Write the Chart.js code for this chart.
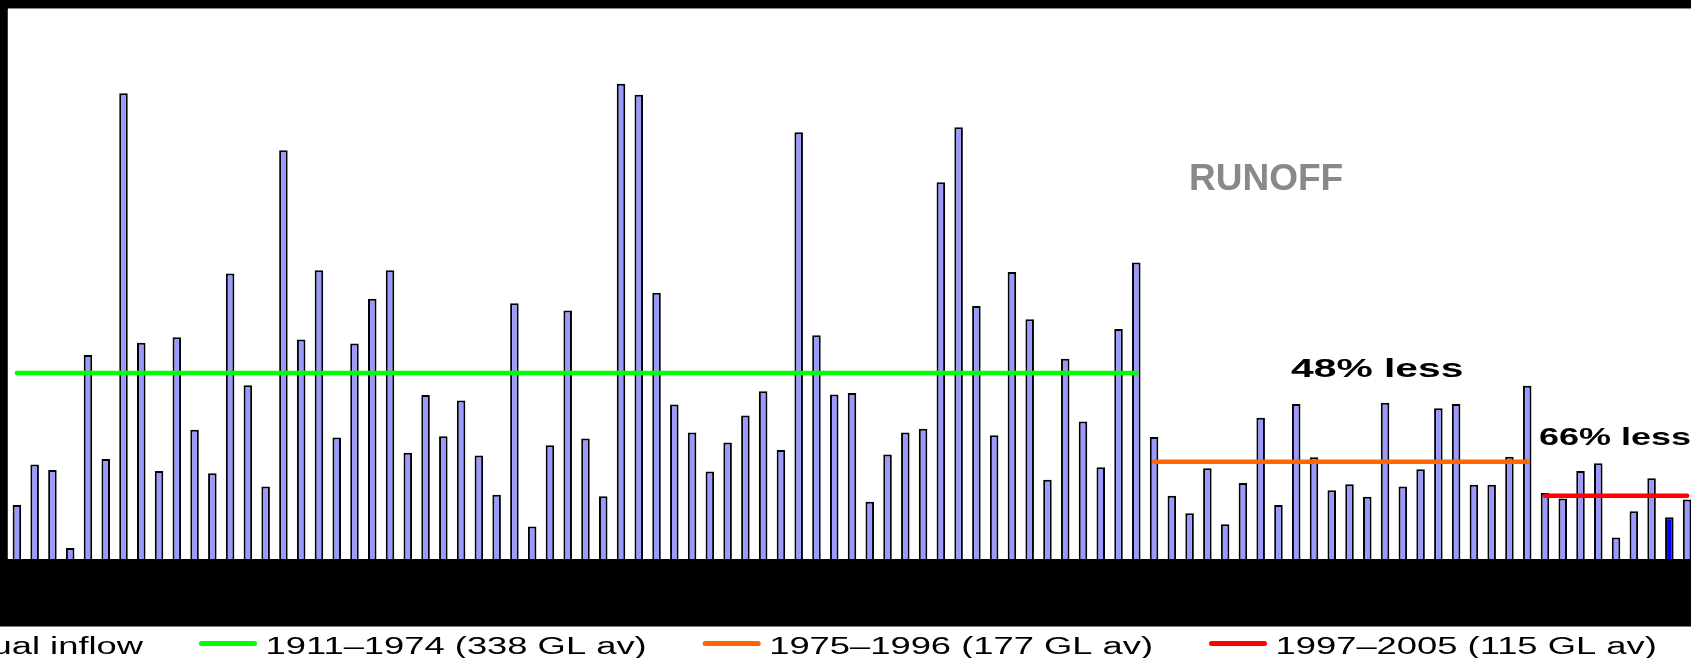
<!DOCTYPE html>
<html>
<head>
<meta charset="utf-8">
<title>Runoff</title>
<script src="https://cdn.jsdelivr.net/npm/chart.js@4.4.1/dist/chart.umd.min.js"></script>
<style>
    html, body { margin: 0; padding: 0; background: #000; overflow: hidden; }
    #wrap { position: absolute; left: 0; top: 0; width: 1696px; height: 658px; }
</style>
</head>
<body>
<div id="wrap"><canvas id="chart" width="1696" height="658"></canvas></div>
<script>
// --------------------------- Data (GL per year)

const years = [
    '1911', '1912', '1913', '1914', '1915', '1916', '1917', '1918', '1919', '1920',
    '1921', '1922', '1923', '1924', '1925', '1926', '1927', '1928', '1929', '1930',
    '1931', '1932', '1933', '1934', '1935', '1936', '1937', '1938', '1939', '1940',
    '1941', '1942', '1943', '1944', '1945', '1946', '1947', '1948', '1949', '1950',
    '1951', '1952', '1953', '1954', '1955', '1956', '1957', '1958', '1959', '1960',
    '1961', '1962', '1963', '1964', '1965', '1966', '1967', '1968', '1969', '1970',
    '1971', '1972', '1973', '1974', '1975', '1976', '1977', '1978', '1979', '1980',
    '1981', '1982', '1983', '1984', '1985', '1986', '1987', '1988', '1989', '1990',
    '1991', '1992', '1993', '1994', '1995', '1996', '1997', '1998', '1999', '2000',
    '2001', '2002', '2003', '2004', '2005'
];

const inflow = [
    98, 172, 162, 20, 371, 182, 847, 393, 160, 403,
    235, 156, 519, 316, 132, 743, 399, 525, 221, 392,
    473, 525, 193, 298, 223, 288, 188, 117, 465, 59,
    207, 452, 219, 114, 864, 844, 484, 281, 230, 159,
    212, 261, 305, 198, 776, 407, 299, 302, 104, 190,
    230, 237, 685, 785, 460, 225, 522, 436, 144, 364,
    250, 167, 418, 539, 222, 115, 83, 165, 63, 138,
    257, 98, 282, 185, 125, 136, 113, 284, 132, 163,
    274, 282, 135, 135, 186, 315, 120, 110, 160, 174,
    39, 87, 147, 76, 108
];

const highlightYear = '2004';

const periodLabels = ['1911\u20131974 (338 GL av)', '1975\u20131996 (177 GL av)', '1997\u20132005 (115 GL av)'];
const periodStart = ['1911', '1975', '1997'];
const periodEnd = ['1974', '1996', '2005'];
const periodMean = [338, 177, 115];
const periodColors = ['#00ff00', '#ff6600', '#ff0000'];

const yMax = 1000;

// --------------------------- Helpers

const FONT = '"Liberation Sans", Arial, sans-serif';

// the original slide has its text stretched sideways
function wideText(ctx, text, x, y, sx) {
    ctx.save();
    ctx.translate(x, y);
    ctx.scale(sx, 1);
    ctx.fillText(text, 0, 0);
    ctx.restore();
    return ctx.measureText(text).width * sx;
}

const backdrop = {
    id: 'backdrop',
    beforeDraw(chart) {
        const { ctx, chartArea: a } = chart;
        ctx.save();
        ctx.fillStyle = '#000';
        ctx.fillRect(0, 0, chart.width, chart.height);
        ctx.fillStyle = '#fff';
        ctx.fillRect(a.left, a.top, a.right - a.left, a.bottom - a.top);
        ctx.strokeStyle = '#8a8a8a';
        ctx.lineWidth = 1;
        ctx.beginPath();
        ctx.moveTo(a.left, a.top - 0.5);
        ctx.lineTo(a.right, a.top - 0.5);
        ctx.stroke();
        ctx.strokeStyle = '#3a3a3a';
        ctx.beginPath();
        ctx.moveTo(a.left - 0.5, a.top);
        ctx.lineTo(a.left - 0.5, a.bottom);
        ctx.stroke();
        // legend strip under the black band
        ctx.fillStyle = '#fff';
        ctx.fillRect(0, 627, chart.width, chart.height - 627);
        ctx.strokeStyle = '#777';
        ctx.beginPath();
        ctx.moveTo(0, 626.5);
        ctx.lineTo(chart.width, 626.5);
        ctx.stroke();
        ctx.restore();
    }
};

const notes = {
    id: 'notes',
    afterDraw(chart) {
        const ctx = chart.ctx;
        ctx.save();
        ctx.textBaseline = 'alphabetic';
        ctx.textAlign = 'left';

        ctx.fillStyle = '#898989';
        ctx.font = 'bold 37px ' + FONT;
        ctx.fillText('RUNOFF', 1189, 190);

        ctx.fillStyle = '#000';
        ctx.font = 'bold 25.5px ' + FONT;
        wideText(ctx, '48% less', 1291, 377, 1.6);
        ctx.font = 'bold 23.5px ' + FONT;
        wideText(ctx, '66% less', 1539, 445, 1.53);

        // legend
        const sx = 1.58;
        const swatch = 58, gapIn = 8.5, gapOut = 56, midY = 643.5, base = 653.5;
        ctx.font = '23px ' + FONT;
        const dsets = chart.data.datasets;
        const first = dsets[0];
        const firstW = ctx.measureText(first.label).width * sx;
        let x = 143 - firstW - gapIn - swatch;
        dsets.forEach((ds, i) => {
            if (i === 0) {
                ctx.fillStyle = '#9999ff';
                ctx.fillRect(x + swatch - 14, midY - 7, 14, 14);
                ctx.strokeStyle = '#000';
                ctx.lineWidth = 1.5;
                ctx.strokeRect(x + swatch - 14, midY - 7, 14, 14);
            } else {
                ctx.strokeStyle = ds.borderColor;
                ctx.lineWidth = 5;
                ctx.lineCap = 'round';
                ctx.beginPath();
                ctx.moveTo(x + 2.5, midY);
                ctx.lineTo(x + swatch - 2.5, midY);
                ctx.stroke();
            }
            ctx.fillStyle = '#000';
            const w = wideText(ctx, ds.label, x + swatch + gapIn, base, sx);
            x += swatch + gapIn + w + gapOut;
        });
        ctx.restore();
    }
};

// --------------------------- Chart

const datasets = [
    {
        type: 'bar',
        label: 'Annual inflow',
        data: inflow,
        backgroundColor: ctx => years[ctx.dataIndex] === highlightYear ? '#0000ff' : '#9999ff',
        borderColor: '#000',
        borderWidth: 2,
        barPercentage: 0.48,
        categoryPercentage: 1.0,
        order: 1
    }
];

periodLabels.forEach((label, i) => {
    datasets.push({
        type: 'line',
        label: label,
        data: [
            { x: periodStart[i], y: periodMean[i] },
            { x: periodEnd[i], y: periodMean[i] }
        ],
        borderColor: periodColors[i],
        borderWidth: 4.5,
        borderCapStyle: 'round',
        pointRadius: 0,
        fill: false,
        order: 0
    });
});

const config = {
    type: 'bar',
    data: { labels: years, datasets: datasets },
    options: {
        responsive: false,
        animation: false,
        devicePixelRatio: 1,
        layout: { padding: { left: 8, top: 9, right: 0, bottom: 99 } },
        plugins: {
            legend: { display: false },
            tooltip: { enabled: false }
        },
        scales: {
            x: { display: false, offset: true },
            y: { display: false, min: 0, max: yMax }
        }
    },
    plugins: [backdrop, notes]
};

const main_chart = new Chart(document.getElementById('chart'), config);
</script>
</body>
</html>
